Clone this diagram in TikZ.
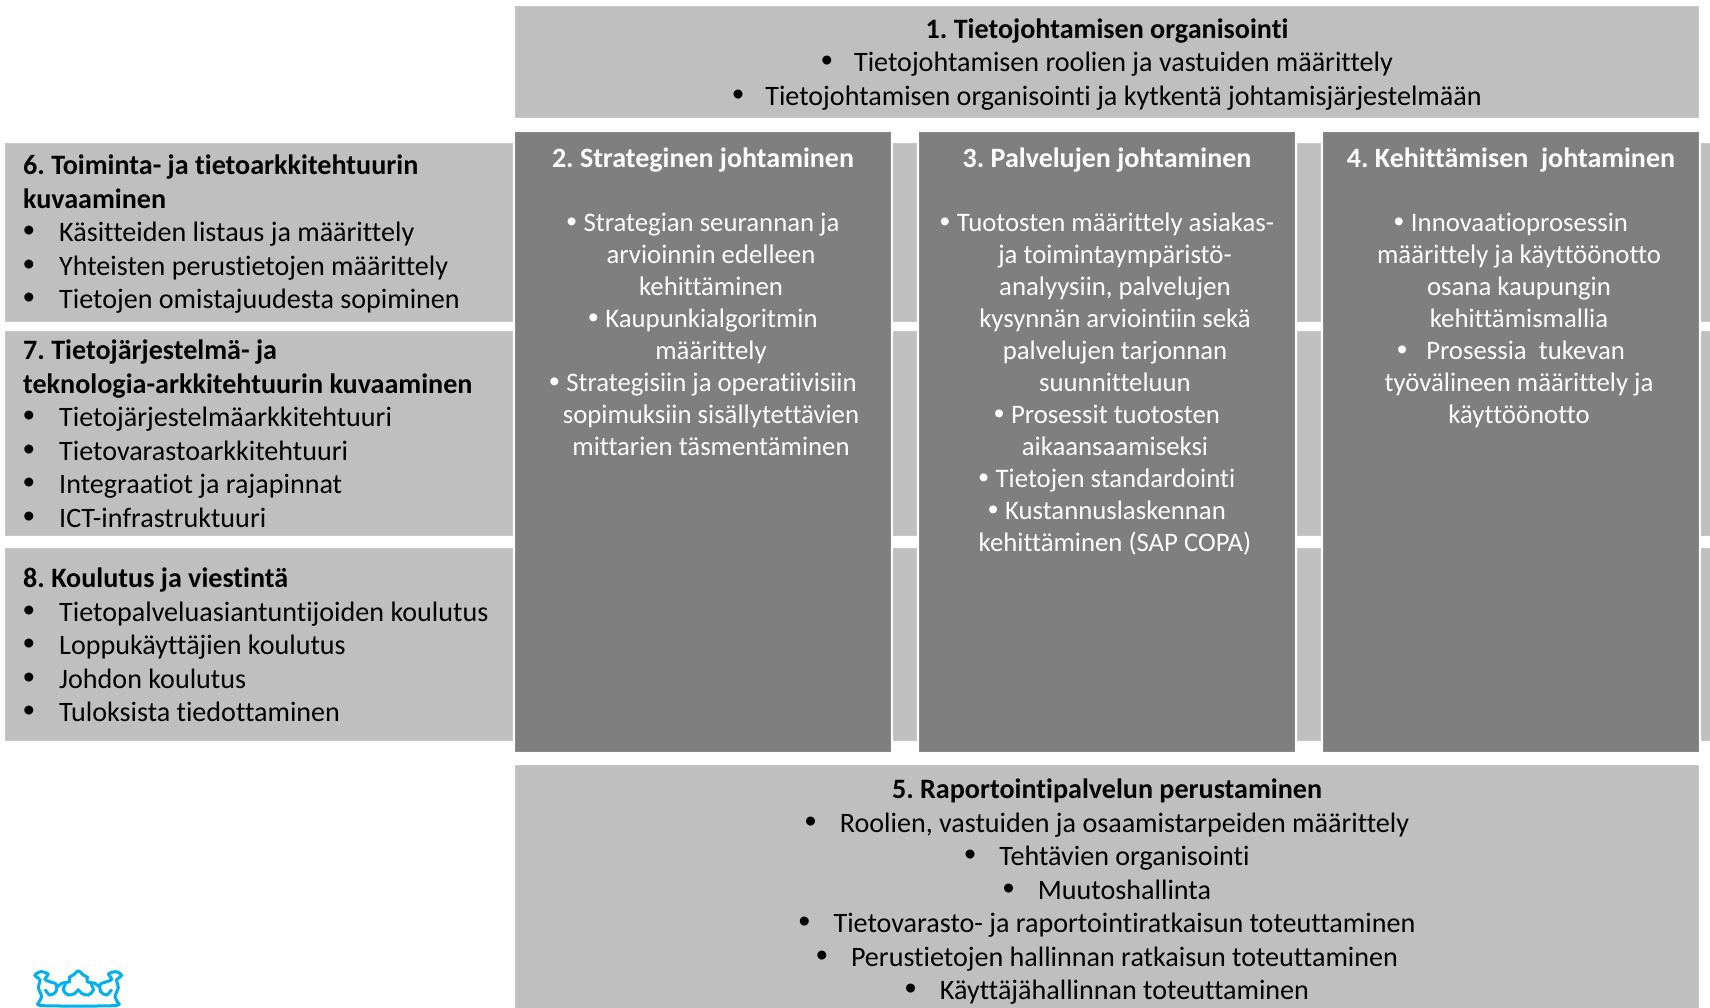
\documentclass[tikz,border=0pt]{standalone}
\usepackage{fontspec}
\setmainfont[Ligatures=NoCommon]{Carlito}
\newfontfamily\bulletfont{Liberation Sans}
\newcommand{\bulblack}[1]{\makebox[#1][l]{\bulletfont\fontsize{33}{33}\selectfont\textbullet}}
\newcommand{\bulwhite}{\makebox[17pt][l]{\bulletfont\fontsize{29}{29}\selectfont\textbullet}}
\newcommand{\ind}{\hspace*{16pt}}
\frenchspacing
\begin{document}
\begin{tikzpicture}[
    x = 1pt,
    y = -1pt,
    lightbox/.style = {fill = boxlight, draw = boxlightedge, line width = 1pt, inner sep = 0, anchor = north west},
    darkbox/.style = {fill = boxdark, draw = boxdarkedge, line width = 1pt, inner sep = 0, anchor = north west},
    label/.style = {inner sep = 0, anchor = north, align = center, font = \fontsize{28.1}{33.5}\selectfont},
    sidelabel/.style = {inner sep = 0, anchor = north west, align = left, font = \fontsize{28.1}{33.5}\selectfont},
    darklabel/.style = {inner sep = 0, anchor = north, align = center, text = white, font = \fontsize{26.75}{32}\selectfont}
  ]
    \definecolor{boxlight}{HTML}{BFBFBF}
    \definecolor{boxlightedge}{HTML}{C8C8C8}
    \definecolor{boxdark}{HTML}{7F7F7F}
    \definecolor{boxdarkedge}{HTML}{8A8A8A}
    \definecolor{crownblue}{HTML}{00B0F0}
    \useasboundingbox (0, 0) rectangle (1710, 1008);
    \node[lightbox, minimum width = 1183pt, minimum height = 111pt] (organisation_box) at (515, 6) {};
    \node[lightbox, minimum width = 507pt, minimum height = 178pt] (architecture_box) at (5, 143) {};
    \node[lightbox, minimum width = 507pt, minimum height = 204pt] (systems_box) at (5, 331) {};
    \node[lightbox, minimum width = 507pt, minimum height = 192pt] (training_box) at (5, 548) {};
    \foreach \col/\x in {a/893, b/1297, c/1701} {
      \node[lightbox, minimum width = 23pt, minimum height = 178pt] (strip_\col_top) at (\x, 143) {};
      \node[lightbox, minimum width = 23pt, minimum height = 204pt] (strip_\col_mid) at (\x, 331) {};
      \node[lightbox, minimum width = 23pt, minimum height = 192pt] (strip_\col_low) at (\x, 548) {};
    }
    \node[darkbox, minimum width = 375pt, minimum height = 619pt] (strategy_box) at (515, 132) {};
    \node[darkbox, minimum width = 375pt, minimum height = 619pt] (services_box) at (919, 132) {};
    \node[darkbox, minimum width = 375pt, minimum height = 619pt] (development_box) at (1323, 132) {};
    \node[lightbox, minimum width = 1183pt, minimum height = 250pt] (reporting_box) at (515, 765) {};
    \node[label] (organisation_text) at (1107, 18.5) {\textbf{1. Tietojohtamisen organisointi}\\
      \bulblack{33pt}Tietojohtamisen roolien ja vastuiden määrittely\\
      \bulblack{33pt}Tietojohtamisen organisointi ja kytkentä johtamisjärjestelmään};
    \node[sidelabel] (architecture_text) at (23, 155) {\textbf{6. Toiminta- ja tietoarkkitehtuurin}\\
      \textbf{kuvaaminen}\\
      \bulblack{36pt}Käsitteiden listaus ja määrittely\\
      \bulblack{36pt}Yhteisten perustietojen määrittely\\
      \bulblack{36pt}Tietojen omistajuudesta sopiminen};
    \node[sidelabel] (systems_text) at (23, 340) {\textbf{7. Tietojärjestelmä- ja}\\
      \textbf{teknologia-arkkitehtuurin kuvaaminen}\\
      \bulblack{36pt}Tietojärjestelmäarkkitehtuuri\\
      \bulblack{36pt}Tietovarastoarkkitehtuuri\\
      \bulblack{36pt}Integraatiot ja rajapinnat\\
      \bulblack{36pt}ICT-infrastruktuuri};
    \node[sidelabel] (training_text) at (23, 568) {\textbf{8. Koulutus ja viestintä}\\
      \bulblack{36pt}Tietopalveluasiantuntijoiden koulutus\\
      \bulblack{36pt}Loppukäyttäjien koulutus\\
      \bulblack{36pt}Johdon koulutus\\
      \bulblack{36pt}Tuloksista tiedottaminen};
    \node[darklabel] (strategy_text) at (703, 148) {\textbf{\fontsize{28}{32}\selectfont 2. Strateginen johtaminen}\\[32pt]
      \bulwhite Strategian seurannan ja\\
      \ind arvioinnin edelleen\\
      \ind kehittäminen\\
      \bulwhite Kaupunkialgoritmin\\
      \ind määrittely\\
      \bulwhite Strategisiin ja operatiivisiin\\
      \ind sopimuksiin sisällytettävien\\
      \ind mittarien täsmentäminen};
    \node[darklabel] (services_text) at (1107, 148) {\textbf{\fontsize{28}{32}\selectfont 3. Palvelujen johtaminen}\\[32pt]
      \bulwhite Tuotosten määrittely asiakas-\\
      \ind ja toimintaympäristö-\\
      \ind analyysiin, palvelujen\\
      \ind kysynnän arviointiin sekä\\
      \ind palvelujen tarjonnan\\
      \ind suunnitteluun\\
      \bulwhite Prosessit tuotosten\\
      \ind aikaansaamiseksi\\
      \bulwhite Tietojen standardointi\\
      \bulwhite Kustannuslaskennan\\
      \ind kehittäminen (SAP COPA)};
    \node[darklabel] (development_text) at (1511, 148) {\textbf{\fontsize{28}{32}\selectfont 4. Kehittämisen\ \ johtaminen}\\[32pt]
      \bulwhite Innovaatioprosessin\\
      \ind määrittely ja käyttöönotto\\
      \ind osana kaupungin\\
      \ind kehittämismallia\\
      \bulwhite\ \ Prosessia\ \ tukevan\\
      \ind työvälineen määrittely ja\\
      \ind käyttöönotto};
    \node[label] (reporting_text) at (1107, 779) {\textbf{5. Raportointipalvelun perustaminen}\\
      \bulblack{35pt}Roolien, vastuiden ja osaamistarpeiden määrittely\\
      \bulblack{35pt}Tehtävien organisointi\\
      \bulblack{35pt}Muutoshallinta\\
      \bulblack{35pt}Tietovarasto- ja raportointiratkaisun toteuttaminen\\
      \bulblack{35pt}Perustietojen hallinnan ratkaisun toteuttaminen\\
      \bulblack{35pt}Käyttäjähallinnan toteuttaminen};
    \begin{scope}[shift = {(0, 900)}, x = 0.3333pt, y = -0.3333pt, draw = crownblue, line width = 3pt]
      \draw plot[smooth cycle, tension = 0.5] coordinates {(130, 317) (340, 317) (352, 305) (345, 290) (355, 262) (350, 240) (365, 226) (348, 215) (326, 222) (335, 238) (318, 246) (305, 250) (295, 258) (285, 250) (262, 245) (262, 232) (250, 225) (235, 213) (220, 225) (208, 232) (208, 245) (185, 250) (175, 258) (165, 250) (152, 246) (135, 238) (144, 222) (122, 215) (105, 226) (120, 240) (115, 262) (125, 290) (118, 305)};
      \draw plot[smooth, tension = 0.6] coordinates {(197, 252) (190, 270) (205, 285) (225, 280) (235, 270) (245, 280) (265, 285) (280, 270) (273, 252)};
      \draw plot[smooth, tension = 0.6] coordinates {(135, 268) (150, 285) (168, 275) (170, 258)};
      \draw plot[smooth, tension = 0.6] coordinates {(335, 268) (320, 285) (302, 275) (300, 258)};
    \end{scope}
  \end{tikzpicture}
\end{document}
